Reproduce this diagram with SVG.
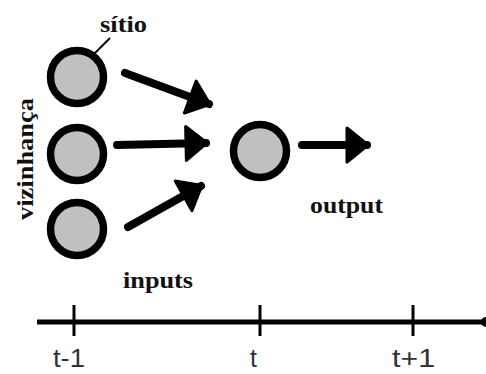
<svg xmlns="http://www.w3.org/2000/svg" width="486" height="374" viewBox="0 0 486 374">
<style>
.node{fill:#c0c0c0;stroke:#000;stroke-width:7.5}
.lbl{font-family:"Liberation Serif",serif;font-weight:bold;font-size:24px;fill:#111}
.tl{font-family:"Liberation Sans",sans-serif;font-size:25px;fill:#333}
.conn{stroke:#000;stroke-width:8;stroke-linecap:round;fill:none}
</style>
<defs>
<marker id="ah" markerUnits="userSpaceOnUse" markerWidth="28" markerHeight="38" refX="22" refY="19" orient="auto">
<path d="M2,2 L23,19 L2,36 Z" fill="#000" stroke="#000" stroke-width="3" stroke-linejoin="round"/>
</marker>
</defs>
<rect width="486" height="374" fill="#fff"/>
<g id="connectors">
<line class="conn" x1="125" y1="73" x2="209" y2="104" marker-end="url(#ah)"/>
<line class="conn" x1="117" y1="145" x2="206" y2="143" marker-end="url(#ah)"/>
<line class="conn" x1="128" y1="227" x2="201" y2="186" marker-end="url(#ah)"/>
<line class="conn" x1="302" y1="145" x2="367" y2="145" marker-end="url(#ah)"/>
<line x1="110" y1="38" x2="80" y2="68" stroke="#000" stroke-width="2"/>
</g>
<g id="node-sitio1"><circle class="node" cx="77" cy="77" r="26.5"/></g>
<g id="node-sitio2"><circle class="node" cx="77" cy="154" r="26.5"/></g>
<g id="node-sitio3"><circle class="node" cx="77" cy="229" r="26.5"/></g>
<g id="node-center"><circle class="node" cx="260" cy="151" r="26.5"/></g>
<g id="labels">
<text class="lbl" x="100" y="32" textLength="47" lengthAdjust="spacingAndGlyphs">sítio</text>
<text class="lbl" transform="translate(33,159) rotate(-90)" text-anchor="middle" textLength="122" lengthAdjust="spacingAndGlyphs">vizinhança</text>
<text class="lbl" x="310" y="213" textLength="73" lengthAdjust="spacingAndGlyphs">output</text>
<text class="lbl" x="123" y="288" textLength="70" lengthAdjust="spacingAndGlyphs">inputs</text>
</g>
<g id="timeline">
<line x1="37" y1="322" x2="484" y2="322" stroke="#000" stroke-width="5"/>
<circle cx="486" cy="322" r="5" fill="#000"/>
<line x1="74" y1="305" x2="74" y2="336" stroke="#000" stroke-width="3"/>
<line x1="260" y1="305" x2="260" y2="336" stroke="#000" stroke-width="3"/>
<line x1="413" y1="305" x2="413" y2="336" stroke="#000" stroke-width="3"/>
<text class="tl" x="53" y="367" textLength="32" lengthAdjust="spacingAndGlyphs">t-1</text>
<text class="tl" x="250" y="367">t</text>
<text class="tl" x="392" y="367" textLength="43" lengthAdjust="spacingAndGlyphs">t+1</text>
</g>
</svg>
